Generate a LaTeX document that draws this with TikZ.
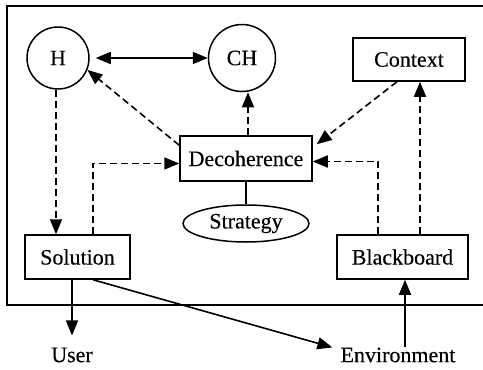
\documentclass[tikz,border=0pt]{standalone}
\usepackage{fontspec}
\setmainfont{Liberation Serif}
\newfontfamily\labelfont{Liberation Serif}[FakeBold=0.3]
\usetikzlibrary{arrows.meta,shapes.geometric}
\begin{document}
\begin{tikzpicture}[x=1pt,y=-1pt,
  font=\labelfont\fontsize{22}{24}\selectfont,
  every node/.style={inner sep=0pt},
  frameline/.style={line width=1.7pt},
  boxnode/.style={draw,line width=1.5pt,rectangle},
  circnode/.style={draw,line width=1.5pt,circle},
  ovalnode/.style={draw,line width=1.5pt,ellipse},
  tip/.style={-{Triangle[length=15pt,width=12pt]}},
  solidarrow/.style={tip,line width=1.6pt},
  dasharrow/.style={tip,line width=1.6pt,dash pattern=on 7pt off 4pt}]
\useasboundingbox (0,0) rectangle (483,370);
% outer frame (open on the right)
\draw[frameline] (484,6) -- (7,6) -- (7,305) -- (484,305);
% nodes
\node[circnode,minimum size=62pt] (H) at (58,58) {H};
\node[circnode,minimum size=67pt] (CH) at (242,58) {CH};
\node[boxnode,minimum width=112pt,minimum height=43pt] (Context) at (409,59.5) {Context};
\node[boxnode,minimum width=132pt,minimum height=45pt] (Deco) at (246,158.5) {Decoherence};
\node[ovalnode,minimum width=126pt,minimum height=37pt] (Strat) at (246,223.5) {Strategy};
\node[boxnode,minimum width=105pt,minimum height=44pt] (Sol) at (77.5,257) {Solution};
\node[boxnode,minimum width=131pt,minimum height=44pt] (Black) at (402.5,257) {Blackboard};
\node (User) at (72,355) {User};
\node (Env) at (398,355) {Environment};
% connectors
\draw[solidarrow,{Triangle[length=15pt,width=12pt]}-{Triangle[length=15pt,width=12pt]}]
  ([xshift=6pt]H.east) -- (CH.west);
\draw[dasharrow] ([xshift=-2pt]H.south) -- ([xshift=-2pt]H.south |- Sol.north);
\draw[dasharrow] ([xshift=15.5pt]Sol.north) |- ([yshift=-5pt]Deco.west);
\draw[dasharrow] ([yshift=-10pt]Deco.north west) -- (H.-22);
\draw[dasharrow] ([xshift=2pt]Deco.north) -- ([xshift=2pt]Deco.north |- CH.south);
\draw[dasharrow] ([xshift=-12pt]Context.south) -- ([xshift=4pt,yshift=-9pt]Deco.north east);
\draw[dasharrow] ([xshift=-24.5pt]Black.north) |- ([yshift=-3pt]Deco.east);
\draw[dasharrow] ([xshift=17.5pt]Black.north) -- ([xshift=17.5pt]Black.north |- Context.south);
\draw[line width=1.5pt] (Deco.south) -- (Strat.north);
\draw[solidarrow] ([xshift=-5.5pt]Sol.south) -- ([yshift=12pt]User.north);
\draw[solidarrow] ([xshift=15.5pt]Sol.south) -- ([xshift=-8pt]Env.north west);
\draw[solidarrow] ([xshift=7pt]Env.north) -- ([xshift=7pt]Env.north |- Black.south);
\end{tikzpicture}
\end{document}
